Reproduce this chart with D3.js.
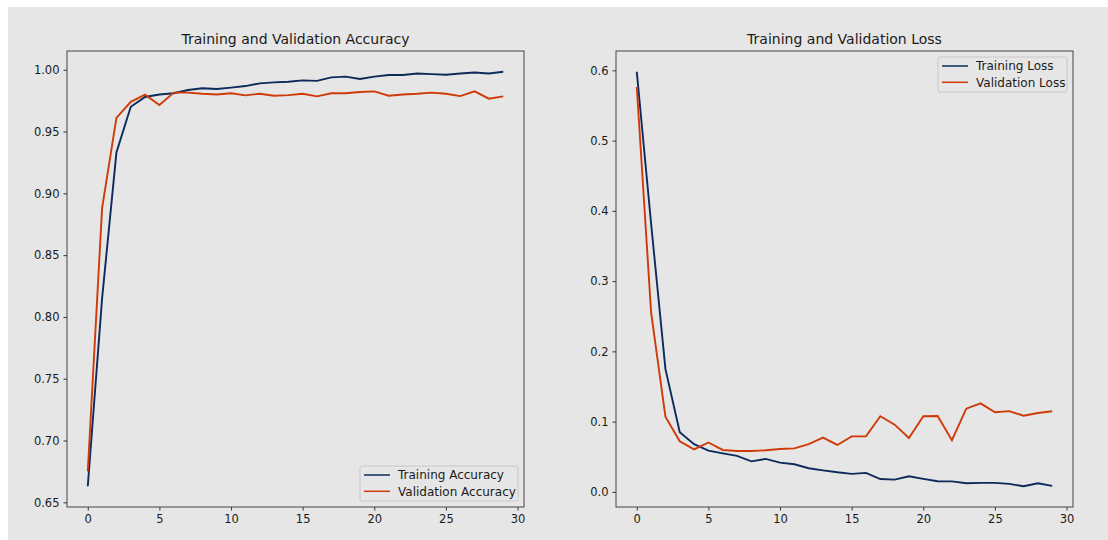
<html>
<head>
  <meta charset="utf-8">
  <script src="https://d3js.org/d3.v7.min.js"></script>
  <style>
    body { margin: 0; background: #fff; }
    text { font-family: "DejaVu Sans", sans-serif; fill: #1a1a1a; }
  </style>
</head>
<body>
<svg id="fig" width="1108" height="540"></svg>
<script>
  // epochs 0..29
  var epochs = d3.range(0, 30);

  var trainAcc = [0.663, 0.815, 0.933, 0.970, 0.978, 0.980, 0.981, 0.9836, 0.985, 0.9844,
                  0.9855, 0.9868, 0.989, 0.9898, 0.9903, 0.9914, 0.991, 0.9938, 0.9944, 0.9925,
                  0.9944, 0.9957, 0.9957, 0.997, 0.9965, 0.996, 0.997, 0.9978, 0.997, 0.9984];
  var valAcc = [0.675, 0.888, 0.961, 0.974, 0.9798, 0.9715, 0.9815, 0.9815, 0.9806, 0.980,
                0.981, 0.9793, 0.9806, 0.979, 0.9795, 0.9806, 0.9785, 0.981, 0.981, 0.982,
                0.9825, 0.979, 0.980, 0.9806, 0.9815, 0.9806, 0.9787, 0.9825, 0.9766, 0.9785];

  var trainLoss = [0.598, 0.382, 0.175, 0.085, 0.068, 0.0587, 0.0549, 0.0512, 0.0435, 0.047,
                   0.0417, 0.0393, 0.0336, 0.0307, 0.0279, 0.0256, 0.027, 0.0183, 0.0175, 0.0222,
                   0.0185, 0.0151, 0.015, 0.0123, 0.0128, 0.0128, 0.0114, 0.008, 0.0123, 0.0085];
  var valLoss = [0.5765, 0.2555, 0.107, 0.072, 0.0606, 0.0703, 0.0597, 0.0583, 0.0583, 0.0592,
                 0.061, 0.062, 0.068, 0.0772, 0.0668, 0.079, 0.079, 0.1076, 0.0957, 0.0768,
                 0.1076, 0.108, 0.0735, 0.1185, 0.126, 0.1133, 0.115, 0.1085, 0.1123, 0.1147];

  var xTicks = [0, 5, 10, 15, 20, 25, 30];
  var accTicks = [0.65, 0.70, 0.75, 0.80, 0.85, 0.90, 0.95, 1.00];
  var lossTicks = [0.0, 0.1, 0.2, 0.3, 0.4, 0.5, 0.6];

  var trainColor = "#0c2a5a";
  var valColor = "#cf3a08";

  var svg = d3.select("#fig");
  svg.append("rect").attr("x", 8).attr("y", 7).attr("width", 1100).attr("height", 533)
     .attr("fill", "#e6e6e6");

  // pad a domain like matplotlib does (5% each side)
  function padded(vals) {
    var e = d3.extent(vals);
    var m = (e[1] - e[0]) * 0.05;
    return [e[0] - m, e[1] + m];
  }

  function panel(opt) {
    var g = svg.append("g");
    var x = d3.scaleLinear().domain(padded(epochs)).range([opt.left, opt.right]);
    var y = d3.scaleLinear().domain(padded(opt.a.concat(opt.b))).range([opt.bottom, opt.top]);

    g.append("text")
      .attr("x", (opt.left + opt.right) / 2).attr("y", opt.top - 7)
      .attr("text-anchor", "middle").style("font-size", "14px")
      .text(opt.title);

    var xa = g.append("g").attr("transform", "translate(0," + opt.bottom + ")")
      .call(d3.axisBottom(x).tickValues(xTicks).tickSize(3.5).tickPadding(4));
    var ya = g.append("g").attr("transform", "translate(" + opt.left + ",0)")
      .call(d3.axisLeft(y).tickValues(opt.ticks).tickFormat(d3.format(opt.fmt)).tickSize(3.5).tickPadding(4));
    [xa, ya].forEach(function(a) {
      a.select(".domain").remove();
      a.selectAll("line").attr("stroke", "#333");
      a.selectAll("text").style("font-size", "11.5px").attr("fill", "#1a1a1a");
    });

    g.append("rect")
      .attr("x", opt.left).attr("y", opt.top)
      .attr("width", opt.right - opt.left).attr("height", opt.bottom - opt.top)
      .attr("fill", "none").attr("stroke", "#444").attr("stroke-width", 1);

    var line = d3.line().x(function(d, i) { return x(epochs[i]); }).y(function(d) { return y(d); });
    g.append("path").attr("d", line(opt.a)).attr("fill", "none")
      .attr("stroke", trainColor).attr("stroke-width", 1.9);
    g.append("path").attr("d", line(opt.b)).attr("fill", "none")
      .attr("stroke", valColor).attr("stroke-width", 1.9);

    // legend
    var L = opt.legend;
    var lg = g.append("g").attr("transform", "translate(" + L.x + "," + L.y + ")");
    lg.append("rect").attr("width", L.w).attr("height", 35).attr("rx", 2)
      .attr("fill", "#e6e6e6").attr("stroke", "#c8c8c8");
    [[opt.labels[0], trainColor], [opt.labels[1], valColor]].forEach(function(it, i) {
      var cy = 9 + i * 16.3;
      lg.append("line").attr("x1", 4).attr("x2", 30).attr("y1", cy).attr("y2", cy)
        .attr("stroke", it[1]).attr("stroke-width", 1.5);
      lg.append("text").attr("x", 38).attr("y", cy + 4.3).style("font-size", "12px").text(it[0]);
    });
  }

  panel({
    left: 67, right: 524, top: 51, bottom: 507,
    a: trainAcc, b: valAcc, ticks: accTicks, fmt: ".2f",
    title: "Training and Validation Accuracy",
    labels: ["Training Accuracy", "Validation Accuracy"],
    legend: { x: 360, y: 466, w: 158 }
  });
  panel({
    left: 616, right: 1073, top: 51, bottom: 507,
    a: trainLoss, b: valLoss, ticks: lossTicks, fmt: ".1f",
    title: "Training and Validation Loss",
    labels: ["Training Loss", "Validation Loss"],
    legend: { x: 938, y: 57, w: 129 }
  });
</script>
</body>
</html>
